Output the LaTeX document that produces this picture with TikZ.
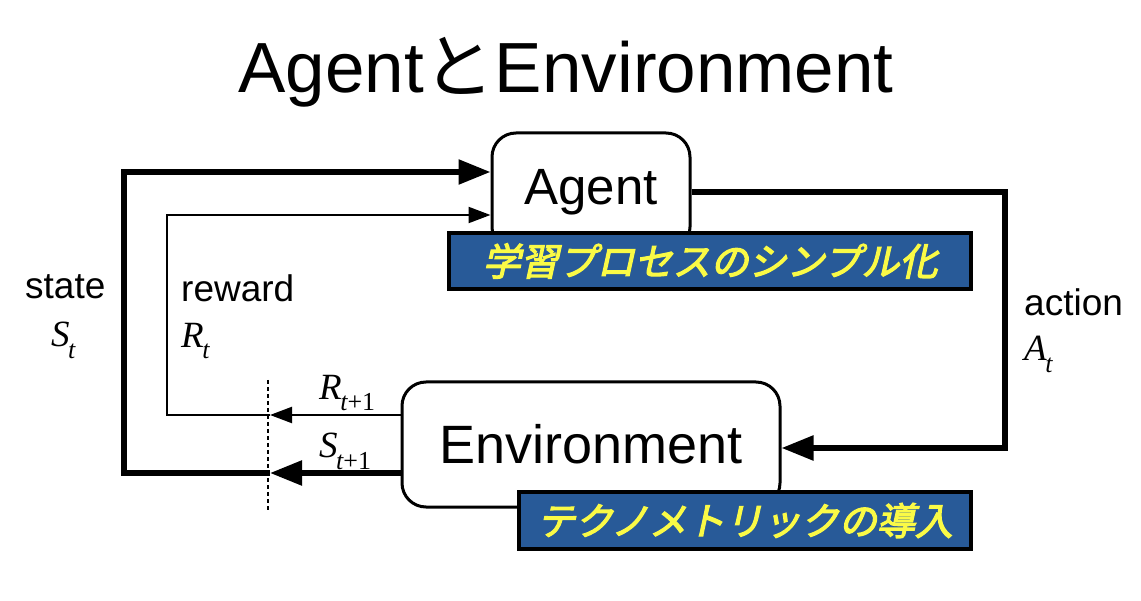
\documentclass[tikz,border=0pt]{standalone}
\usepackage{fontspec}
\setmainfont{Liberation Sans}
\newfontfamily\serifit{Liberation Serif}
\newfontfamily\jpplain{Noto Sans CJK JP}
\newfontfamily\jpfont[FakeSlant=0.22,FakeBold=3]{Noto Sans CJK JP}
\usetikzlibrary{arrows.meta}
\definecolor{noteblue}{RGB}{40,90,152}
\definecolor{noteyellow}{RGB}{250,250,70}
\newcommand{\var}[2]{{\serifit\itshape #1\kern-0.04em\raisebox{-0.32em}{\fontsize{0.7em}{0.7em}\selectfont #2}}}
\begin{document}
\begin{tikzpicture}[x=1pt,y=-1pt,
        roundbox/.style={draw, line width=3pt, rounded corners=24pt, fill=white, inner sep=0pt},
        notebox/.style={draw=black, line width=4pt, fill=noteblue, text=noteyellow, inner sep=0pt,
            font=\jpfont\fontsize{38}{40}\selectfont},
        bigline/.style={line width=5.5pt},
        smallline/.style={line width=2.2pt},
        bigtip/.style={-{Triangle[length=32pt,width=24pt]}},
        smalltip/.style={-{Triangle[length=22pt,width=16pt]}},
        lbl/.style={anchor=west, inner sep=0pt, font=\fontsize{37}{40}\selectfont}]
        \useasboundingbox (0,0) rectangle (1141,601);
        % Title
        \node[anchor=base, inner sep=0pt, font=\fontsize{71}{80}\selectfont] (title) at (566,93)
            {Agent{\jpplain と}Environment};
        % Boxes
        \node[roundbox, minimum width=198pt, minimum height=118pt, font=\fontsize{51}{56}\selectfont]
            (agent) at (591,192) {Agent};
        \node[roundbox, minimum width=378pt, minimum height=125pt, font=\fontsize{54}{60}\selectfont]
            (env) at (591,444.5) {Environment};
        % Corners of the loops
        \coordinate (stateX) at (124,300);
        \coordinate (rewardX) at (167,300);
        \coordinate (actionX) at (1005,300);
        \coordinate (sCut) at (270,473);
        \coordinate (rCut) at (270,415);
        \coordinate (cutTop) at (268,380);
        \coordinate (cutBot) at (268,510);
        % Dashed time step
        \draw[dashed, line width=1.5pt, dash pattern=on 4pt off 3pt] (cutTop) -- (cutBot);
        % State loop
        \draw[bigline, bigtip] (env.west |- sCut) -- (sCut);
        \draw[bigline, bigtip] (sCut) -| (stateX) |- ([yshift=20pt]agent.west);
        % Reward loop
        \draw[smallline, smalltip] (env.west |- rCut) -- (rCut);
        \draw[smallline, smalltip] (rCut) -| (rewardX) |- ([yshift=-23pt]agent.west);
        % Action
        \draw[bigline, bigtip] (agent.east) -| (actionX) |- ([yshift=-3.5pt]env.east);
        % Labels
        \node[lbl] (stateLbl) at (25,287) {state};
        \node[lbl] (stateVar) at (51,340) {\var{S}{t}};
        \node[lbl] (rewardLbl) at (181,288) {reward};
        \node[lbl] (rewardVar) at (181,341) {\var{R}{t}};
        \node[lbl] (actionLbl) at (1024,302) {action};
        \node[lbl] (actionVar) at (1024,354) {\var{A}{t}};
        \node[lbl] (rNext) at (319,393) {\var{R}{t\upshape+1}};
        \node[lbl] (sNext) at (319,451) {\var{S}{t\upshape+1}};
        % Notes
        \node[notebox, minimum width=522pt, minimum height=56pt] (noteAgent) at (710,261)
            {学習プロセスのシンプル化};
        \node[notebox, minimum width=452pt, minimum height=57pt] (noteEnv) at (745,520.5)
            {テクノメトリックの導入};
    \end{tikzpicture}
\end{document}
